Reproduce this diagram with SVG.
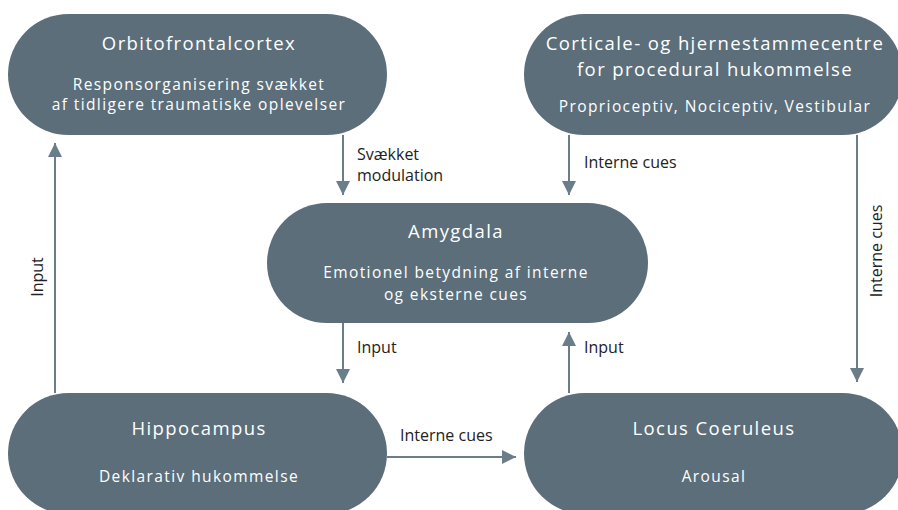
<svg xmlns="http://www.w3.org/2000/svg" width="898" height="510" viewBox="0 0 898 510">
  <style>
    .node { fill: #5b6e7a; }
    .title { font-family: "Open Sans", "Noto Sans", sans-serif; font-size: 18.5px; letter-spacing: 1.4px; fill: #ffffff; text-anchor: middle; }
    .sub { font-family: "Open Sans", "Noto Sans", sans-serif; font-size: 15.5px; letter-spacing: 1.4px; fill: #ffffff; text-anchor: middle; }
    .edge { stroke: #6a7e8a; stroke-width: 2; fill: none; marker-end: url(#arrow); }
    .lbl { font-family: "Open Sans", "Noto Sans", sans-serif; font-size: 16px; fill: #222222; }
  </style>
  <defs>
    <marker id="arrow" viewBox="0 0 14 14" refX="14" refY="7" markerWidth="14" markerHeight="14" markerUnits="userSpaceOnUse" orient="auto">
      <path d="M0,0 L14,7 L0,14 Z" fill="#6a7e8a"/>
    </marker>
  </defs>
  <rect width="898" height="510" fill="#ffffff"/>

  <g id="connectors">
    <line class="edge" x1="55" y1="393" x2="55" y2="143"/>
    <line class="edge" x1="343" y1="135" x2="343" y2="195"/>
    <line class="edge" x1="569" y1="135" x2="569" y2="195"/>
    <line class="edge" x1="857" y1="135" x2="857" y2="382"/>
    <line class="edge" x1="343" y1="323" x2="343" y2="383"/>
    <line class="edge" x1="569" y1="393" x2="569" y2="332"/>
    <line class="edge" x1="387" y1="457" x2="516" y2="457"/>
    <text class="lbl" transform="translate(43,277) rotate(-90)" text-anchor="middle">Input</text>
    <text class="lbl" x="357" y="160">Svækket</text>
    <text class="lbl" x="357" y="181">modulation</text>
    <text class="lbl" x="584" y="168">Interne cues</text>
    <text class="lbl" transform="translate(882,251) rotate(-90)" text-anchor="middle">Interne cues</text>
    <text class="lbl" x="357" y="353">Input</text>
    <text class="lbl" x="584" y="353">Input</text>
    <text class="lbl" x="400" y="441">Interne cues</text>
  </g>

  <g id="orbitofrontal">
    <rect class="node" x="8" y="14" width="379" height="121" rx="60.5"/>
    <text class="title" x="199" y="50">Orbitofrontalcortex</text>
    <text class="sub" x="199" y="90">Responsorganisering svækket</text>
    <text class="sub" x="199" y="110">af tidligere traumatiske oplevelser</text>
  </g>

  <g id="procedural">
    <rect class="node" x="524" y="14" width="379" height="121" rx="60.5"/>
    <text class="title" x="715" y="50">Corticale- og hjernestammecentre</text>
    <text class="title" x="715" y="75.5">for procedural hukommelse</text>
    <text class="sub" x="715" y="112">Proprioceptiv, Nociceptiv, Vestibular</text>
  </g>

  <g id="amygdala">
    <rect class="node" x="267" y="203" width="381" height="120" rx="60"/>
    <text class="title" x="456" y="238">Amygdala</text>
    <text class="sub" x="456" y="278">Emotionel betydning af interne</text>
    <text class="sub" x="456" y="300">og eksterne cues</text>
  </g>

  <g id="hippocampus">
    <rect class="node" x="8" y="393" width="379" height="121" rx="60.5"/>
    <text class="title" x="199" y="435">Hippocampus</text>
    <text class="sub" x="199" y="482">Deklarativ hukommelse</text>
  </g>

  <g id="locus-coeruleus">
    <rect class="node" x="524" y="393" width="379" height="121" rx="60.5"/>
    <text class="title" x="714" y="435">Locus Coeruleus</text>
    <text class="sub" x="714" y="482">Arousal</text>
  </g>
</svg>
